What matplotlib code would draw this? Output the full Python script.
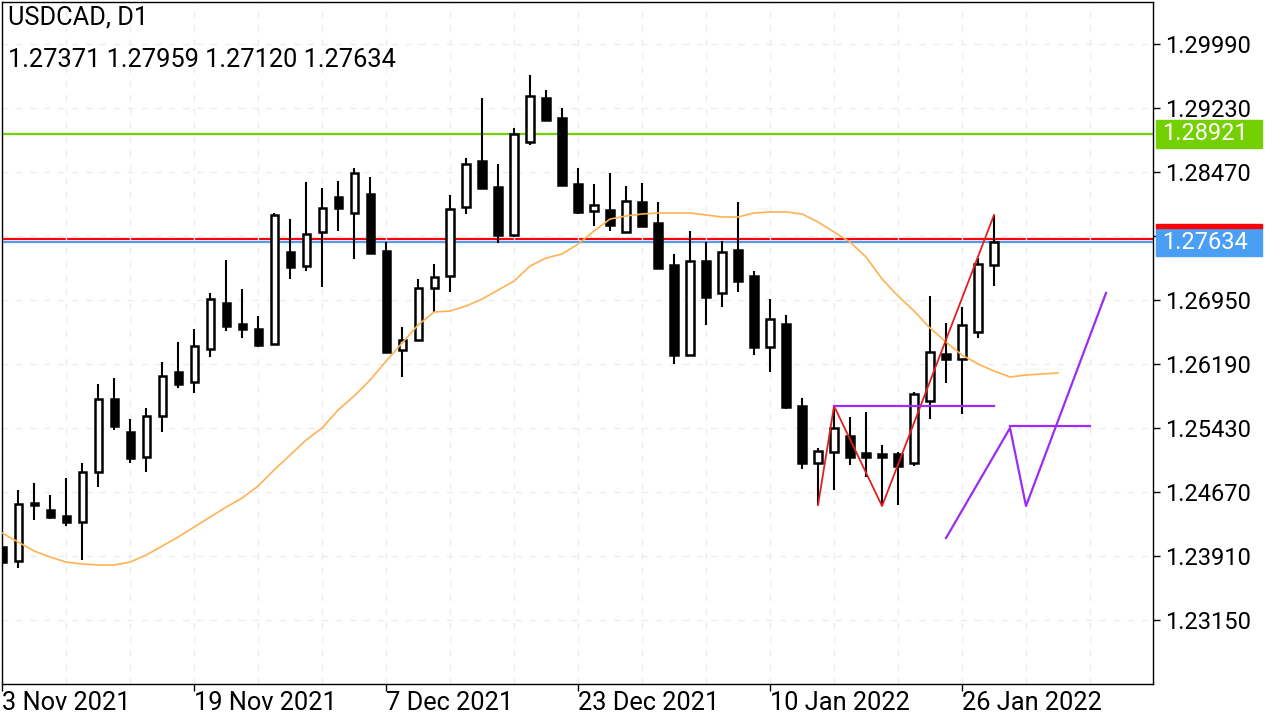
import matplotlib
matplotlib.use('Agg')
import matplotlib.pyplot as plt
from matplotlib.patches import Rectangle

plt.rcParams['font.family'] = ['Roboto', 'DejaVu Sans']

# USDCAD D1 candles, 3 Nov 2021 .. 28 Jan 2022
opens = [1.24016, 1.23850, 1.24539, 1.24456, 1.24385, 1.24313, 1.24907, 1.25774, 1.25382, 1.25085,
         1.25572, 1.26095, 1.25976, 1.26368, 1.26914, 1.26665, 1.26605, 1.26427, 1.27520, 1.27353,
         1.27757, 1.28173, 1.27983, 1.28208, 1.27531, 1.26356, 1.26475, 1.27092, 1.27235, 1.28054,
         1.28600, 1.28291, 1.27721, 1.28826, 1.29348, 1.29111, 1.28327, 1.28006, 1.28018, 1.27757,
         1.28113, 1.27864, 1.27365, 1.26296, 1.27413, 1.27033, 1.27543, 1.27235, 1.26391, 1.26665,
         1.25691, 1.25014, 1.25145, 1.25335, 1.25133, 1.25121, 1.25121, 1.25014, 1.25750, 1.26308,
         1.26249, 1.26570, 1.27371]
highs = [1.24040, 1.24693, 1.24776, 1.24634, 1.24836, 1.25014, 1.25952, 1.26023, 1.25536, 1.25667,
         1.26213, 1.26451, 1.26605, 1.27033, 1.27425, 1.27080, 1.26760, 1.27983, 1.27911, 1.28351,
         1.28280, 1.28363, 1.28517, 1.28410, 1.27638, 1.26629, 1.27199, 1.27377, 1.28196, 1.28636,
         1.29348, 1.28565, 1.28992, 1.29621, 1.29443, 1.29230, 1.28517, 1.28327, 1.28458, 1.28303,
         1.28339, 1.28113, 1.27496, 1.27769, 1.27638, 1.27650, 1.28113, 1.27294, 1.26961, 1.26771,
         1.25786, 1.25192, 1.25679, 1.25560, 1.25620, 1.25228, 1.25145, 1.25857, 1.26997, 1.26676,
         1.26866, 1.27448, 1.27959]
lows = [1.23779, 1.23767, 1.24337, 1.24349, 1.24266, 1.23862, 1.24729, 1.25406, 1.25014, 1.24907,
        1.25382, 1.25905, 1.25845, 1.26273, 1.26581, 1.26498, 1.26391, 1.26415, 1.27199, 1.27294,
        1.27104, 1.27769, 1.27436, 1.27496, 1.26320, 1.26035, 1.26460, 1.26807, 1.27045, 1.27971,
        1.28270, 1.27626, 1.27698, 1.28790, 1.29080, 1.28303, 1.27971, 1.27828, 1.27769, 1.27745,
        1.27815, 1.27318, 1.26190, 1.26285, 1.26653, 1.26866, 1.27045, 1.26296, 1.26095, 1.25655,
        1.24943, 1.24515, 1.24693, 1.24990, 1.24848, 1.24503, 1.24515, 1.24978, 1.25536, 1.25964,
        1.25596, 1.26498, 1.27120]
closes = [1.23838, 1.24527, 1.24515, 1.24373, 1.24313, 1.24907, 1.25774, 1.25453, 1.25073, 1.25572,
          1.26047, 1.25952, 1.26403, 1.26961, 1.26641, 1.26605, 1.26415, 1.27959, 1.27341, 1.27733,
          1.28042, 1.28042, 1.28458, 1.27508, 1.26332, 1.26475, 1.27092, 1.27223, 1.28030, 1.28565,
          1.28280, 1.27721, 1.28921, 1.29372, 1.29087, 1.28315, 1.27995, 1.28078, 1.27840, 1.28125,
          1.27828, 1.27330, 1.26296, 1.27413, 1.26985, 1.27520, 1.27175, 1.26391, 1.26724, 1.25679,
          1.25014, 1.25156, 1.25430, 1.25085, 1.25085, 1.25085, 1.24978, 1.25833, 1.26332, 1.26249,
          1.26653, 1.27377, 1.27634]

# moving average (shifted forward, runs 4 bars past the last candle)
ma = [1.24183, 1.24076, 1.23969, 1.23898, 1.23838, 1.23815, 1.23803, 1.23803, 1.23838, 1.23921,
      1.24028, 1.24135, 1.24254, 1.24373, 1.24491, 1.24598, 1.24741, 1.24931, 1.25109, 1.25287,
      1.25430, 1.25643, 1.25810, 1.25999, 1.26225, 1.26439, 1.26653, 1.26807, 1.26819, 1.26878,
      1.26961, 1.27068, 1.27175, 1.27353, 1.27448, 1.27496, 1.27614, 1.27769, 1.27911, 1.27947,
      1.27971, 1.27983, 1.27983, 1.27983, 1.27959, 1.27935, 1.27935, 1.27983, 1.27995, 1.27995,
      1.27971, 1.27876, 1.27757, 1.27638, 1.27460, 1.27199, 1.26997, 1.26819, 1.26617, 1.26451,
      1.26296, 1.26190, 1.26106, 1.26035, 1.26059, 1.26071, 1.26083]

# zigzag on the chart and projected pattern
zz_bars = [51, 52, 55, 62]
zz_prices = [1.24515, 1.25691, 1.24503, 1.27959]
neck1_bars = [52, 62]
neck1_price = 1.25691
proj_bars = [59, 63, 64, 69]
proj_prices = [1.24123, 1.25430, 1.24503, 1.27033]
neck2_bars = [63, 68]
neck2_price = 1.25459

level_green = 1.28921
bid = 1.27634
ask = 1.27674

date_pos = [0, 12, 24, 36, 48, 60]
date_labels = ['3 Nov 2021', '19 Nov 2021', '7 Dec 2021', '23 Dec 2021', '10 Jan 2022', '26 Jan 2022']
price_ticks = [1.23150, 1.23910, 1.24670, 1.25430, 1.26190, 1.26950, 1.27710, 1.28470, 1.29230, 1.29990]

fig = plt.figure(figsize=(12.8, 7.2), dpi=100)
ax = fig.add_axes([2/1280, 36/720, 1151/1280, 682/720])
ax.set_xlim(-0.01, 1151/16)
ax.set_ylim(1.22390, 1.30488)

# grid
ax.set_xticks(range(0, 72, 4), minor=True)
ax.grid(True, which='both', axis='x', color='#ececec', linestyle=(0, (4.5, 5.5)), linewidth=1, zorder=0)
ax.grid(True, which='major', axis='y', color='#ececec', linestyle=(0, (4.5, 5.5)), linewidth=1, zorder=0)
ax.tick_params(axis='x', which='minor', length=0)

# horizontal levels
ax.axhline(level_green, color='#74d000', lw=1.6, zorder=1)
ax.axhline(ask, color='#ff0000', lw=1.6, zorder=1)
ax.axhline(bid, color='#4a9ff5', lw=1.6, zorder=1)

# candles
n = len(opens)
for i in range(n):
    o, h, l, c = opens[i], highs[i], lows[i], closes[i]
    ax.vlines(i, l, h, color='black', lw=1.5, zorder=3)
    fc = 'white' if c >= o else 'black'
    ax.bar(i, abs(c - o), bottom=min(o, c), width=0.45, color=fc, edgecolor='black', linewidth=1.8, zorder=4)

# moving average
ax.plot(range(len(ma)), ma, color='#ffb254', lw=1.2, zorder=5)

# zigzag & pattern
ax.plot(zz_bars, zz_prices, color='#e02020', lw=1.3, zorder=6)
ax.plot(neck1_bars, [neck1_price, neck1_price], color='#9b2cf2', lw=1.6, zorder=6)
ax.plot(proj_bars, proj_prices, color='#9b2cf2', lw=1.6, zorder=6)
ax.plot(neck2_bars, [neck2_price, neck2_price], color='#9b2cf2', lw=1.6, zorder=6)

# axes & ticks
for s in ax.spines.values():
    s.set_color('black')
    s.set_linewidth(1)
ax.yaxis.tick_right()
ax.set_yticks(price_ticks)
ax.set_yticklabels(['' if abs(p - 1.27710) < 1e-6 else '%.5f' % p for p in price_ticks])
ax.tick_params(axis='y', which='major', length=5, width=1, pad=4, labelsize=17)
ax.set_xticks(date_pos)
ax.set_xticklabels(date_labels)
ax.tick_params(axis='x', which='major', length=5, width=1, pad=0, labelsize=18.3)
plt.setp(ax.get_xticklabels(), ha='left')

# price labels on the right
ytr = ax.get_yaxis_transform()
bx = 1.0 + 3 / 1151
box_w = 106 / 1151
px = 0.00011875
ax.add_patch(Rectangle((bx, level_green - 14*px), box_w, 28*px, transform=ytr,
                       color='#74d000', clip_on=False, zorder=10))
ax.text(bx + 6/1151, level_green, '%.5f' % level_green, transform=ytr, color='white', fontsize=17,
        va='center', ha='left', zorder=11, clip_on=False)
ax.add_patch(Rectangle((bx, bid - 14*px), box_w, 28*px, transform=ytr,
                       color='#4a9ff5', clip_on=False, zorder=10))
ax.add_patch(Rectangle((bx, bid + 14*px), box_w, 4*px, transform=ytr,
                       color='#ff0000', clip_on=False, zorder=10))
ax.text(bx + 6/1151, bid, '%.5f' % bid, transform=ytr, color='white', fontsize=17,
        va='center', ha='left', zorder=11, clip_on=False)

# header
fig.text(8/1280, 1 - 17/720, 'USDCAD, D1', fontsize=18.3, va='center', ha='left')
fig.text(8/1280, 1 - 60/720, '%.5f %.5f %.5f %.5f' % (opens[-1], highs[-1], lows[-1], closes[-1]),
         fontsize=18.3, va='center', ha='left')

fig.savefig('out.png', dpi=100, facecolor='white')
